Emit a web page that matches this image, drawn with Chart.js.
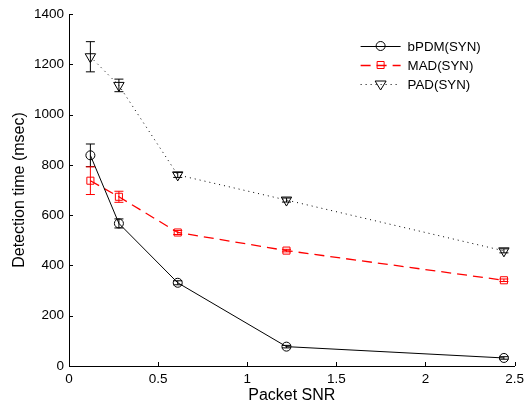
<!DOCTYPE html>
<html>
<head>
<meta charset="utf-8">
<script src="https://cdn.jsdelivr.net/npm/chart.js@4.4.0/dist/chart.umd.min.js"></script>
<style>
  html, body { margin: 0; padding: 0; background: #fff; }
  #wrap { width: 529px; height: 405px; }
</style>
</head>
<body>
<div id="wrap"><canvas id="detChart"></canvas></div>
<script>
const snr = [0.12, 0.28, 0.61, 1.22, 2.44];

const bpdm = [838, 567, 331, 77, 32];
const bpdmErr = [45, 18, 8, 5, 5];

const mad = [737, 673, 531, 459, 341];
const madErr = [55, 22, 8, 5, 5];

const pad = [1230, 1116, 760, 660, 458];
const padErr = [60, 25, 10, 8, 8];

const xTicks = [0, 0.5, 1, 1.5, 2, 2.5];
const yTicks = [0, 200, 400, 600, 800, 1000, 1200, 1400];

const seriesNames = ['bPDM(SYN)', 'MAD(SYN)', 'PAD(SYN)'];
const errors = [bpdmErr, madErr, padErr];

const toPoints = (ys) => ys.map((y, i) => ({ x: snr[i], y: y }));

const fontFamily = '"Liberation Sans", Arial, sans-serif';

// error bars, inward ticks and legend
const extras = {
    id: 'extras',
    afterDatasetsDraw(chart) {
        const ctx = chart.ctx;
        const xs = chart.scales.x;
        const ys = chart.scales.y;
        const area = chart.chartArea;

        chart.data.datasets.forEach((ds, d) => {
            ctx.save();
            ctx.strokeStyle = ds.borderColor;
            ctx.lineWidth = 1;
            ds.data.forEach((p, i) => {
                const e = errors[d][i];
                const px = xs.getPixelForValue(p.x);
                const top = ys.getPixelForValue(p.y + e);
                const bot = ys.getPixelForValue(p.y - e);
                ctx.beginPath();
                ctx.moveTo(px, top);
                ctx.lineTo(px, bot);
                ctx.moveTo(px - 4.5, top);
                ctx.lineTo(px + 4.5, top);
                ctx.moveTo(px - 4.5, bot);
                ctx.lineTo(px + 4.5, bot);
                ctx.stroke();
            });
            ctx.restore();
        });

        // inward ticks
        ctx.save();
        ctx.strokeStyle = '#000';
        ctx.lineWidth = 1;
        ctx.beginPath();
        xTicks.forEach(v => {
            const px = Math.round(xs.getPixelForValue(v)) + 0.5;
            ctx.moveTo(px, area.bottom);
            ctx.lineTo(px, area.bottom - 4);
        });
        yTicks.forEach(v => {
            const py = Math.round(ys.getPixelForValue(v)) + 0.5;
            ctx.moveTo(area.left, py);
            ctx.lineTo(area.left + 4, py);
        });
        ctx.stroke();
        ctx.restore();

        // legend
        ctx.save();
        const lx = area.right - 154;
        chart.data.datasets.forEach((ds, d) => {
            const ly = 46 + d * 19;
            ctx.strokeStyle = ds.borderColor;
            ctx.lineWidth = ds.borderWidth;
            ctx.setLineDash(ds.borderDash || []);
            ctx.beginPath();
            ctx.moveTo(lx, ly + 0.5);
            ctx.lineTo(lx + 40, ly + 0.5);
            ctx.stroke();
            ctx.setLineDash([]);
            ctx.lineWidth = 1;
            const mx = lx + 20;
            ctx.fillStyle = '#fff';
            ctx.beginPath();
            if (ds.pointStyle === 'circle') {
                ctx.arc(mx, ly, 4.5, 0, Math.PI * 2);
            } else if (ds.pointStyle === 'rect') {
                ctx.rect(mx - 3.5, ly - 3.5, 7, 7);
            } else {
                ctx.moveTo(mx - 5.5, ly - 3);
                ctx.lineTo(mx + 5.5, ly - 3);
                ctx.lineTo(mx, ly + 6);
                ctx.closePath();
            }
            ctx.stroke();
            ctx.fillStyle = '#000';
            ctx.font = '13.3px ' + fontFamily;
            ctx.textBaseline = 'middle';
            ctx.fillText(seriesNames[d], lx + 47, ly + 1);
        });
        ctx.restore();
    }
};

new Chart(document.getElementById('detChart'), {
    type: 'line',
    data: {
        datasets: [{
            label: seriesNames[0],
            data: toPoints(bpdm),
            borderColor: '#000',
            borderWidth: 1,
            pointStyle: 'circle',
            pointRadius: 4.5,
            pointBorderColor: '#000',
            pointBackgroundColor: 'rgba(0,0,0,0)',
            pointBorderWidth: 1
        }, {
            label: seriesNames[1],
            data: toPoints(mad),
            borderColor: '#ff0000',
            borderWidth: 1.3,
            borderDash: [10, 6],
            pointStyle: 'rect',
            pointRadius: 5,
            pointBorderColor: '#ff0000',
            pointBackgroundColor: 'rgba(0,0,0,0)',
            pointBorderWidth: 1
        }, {
            label: seriesNames[2],
            data: toPoints(pad),
            borderColor: '#000',
            borderWidth: 1,
            borderDash: [1, 4],
            pointStyle: 'triangle',
            pointRotation: 180,
            pointRadius: 6,
            pointBorderColor: '#000',
            pointBackgroundColor: 'rgba(0,0,0,0)',
            pointBorderWidth: 1
        }]
    },
    options: {
        responsive: true,
        maintainAspectRatio: false,
        animation: false,
        layout: { padding: { top: 14, right: 12, left: 0, bottom: 0 } },
        plugins: {
            legend: { display: false },
            tooltip: { enabled: false }
        },
        elements: { line: { tension: 0 } },
        scales: {
            x: {
                type: 'linear',
                min: 0,
                max: 2.5,
                afterBuildTicks: (scale) => { scale.ticks = xTicks.map(v => ({ value: v })); },
                afterFit: (scale) => { scale.height = 39; },
                grid: { display: false, drawTicks: false },
                border: { display: true, color: '#000', width: 1 },
                ticks: {
                    color: '#000',
                    padding: 5,
                    font: { family: fontFamily, size: 13.5 },
                    callback: (v) => String(v)
                },
                title: {
                    display: true,
                    text: 'Packet SNR',
                    color: '#000',
                    padding: { top: 2, bottom: 0 },
                    font: { family: fontFamily, size: 16 }
                }
            },
            y: {
                type: 'linear',
                min: 0,
                max: 1400,
                afterBuildTicks: (scale) => { scale.ticks = yTicks.map(v => ({ value: v })); },
                afterFit: (scale) => { scale.width = 69; },
                grid: { display: false, drawTicks: false },
                border: { display: true, color: '#000', width: 1 },
                ticks: {
                    color: '#000',
                    padding: 5,
                    font: { family: fontFamily, size: 13.5 },
                    callback: (v) => String(v)
                },
                title: {
                    display: true,
                    text: 'Detection time (msec)',
                    color: '#000',
                    padding: { top: 10, bottom: 0 },
                    font: { family: fontFamily, size: 16 }
                }
            }
        }
    },
    plugins: [extras]
});
</script>
</body>
</html>
